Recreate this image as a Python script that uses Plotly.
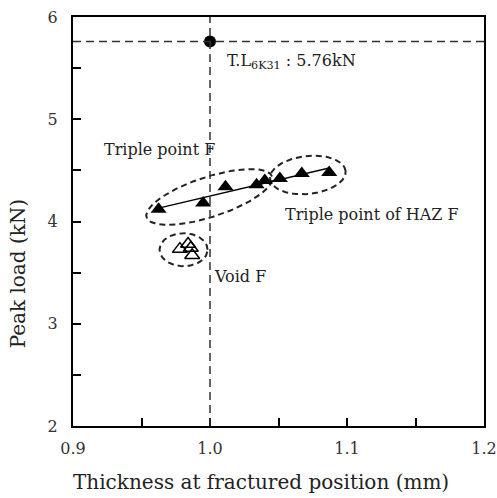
import numpy as np
import plotly.graph_objects as go

# Peak load vs. thickness at the fractured position
triple_x = [0.9625, 0.995, 1.0113, 1.034, 1.040, 1.051, 1.067, 1.087]
triple_y = [4.12, 4.18, 4.34, 4.36, 4.40, 4.42, 4.47, 4.48]

void_x = [0.978, 0.984, 0.986, 0.987]
void_y = [3.73, 3.78, 3.74, 3.67]

tl_x = [1.0]
tl_y = [5.76]

x_ticks = [0.9, 0.95, 1.0, 1.05, 1.1, 1.15, 1.2]
x_tick_text = ["0.9", "", "1.0", "", "1.1", "", "1.2"]
y_ticks = [2, 2.5, 3, 3.5, 4, 4.5, 5, 5.5, 6]
y_tick_text = ["2", "", "3", "", "4", "", "5", "", "6"]

W, H = 497, 498
ML, MR, MT, MB = 73, 13, 17, 72
XR = (0.9, 1.2)
YR = (2.0, 6.0)
px_x = (W - ML - MR) / (XR[1] - XR[0])
px_y = (H - MT - MB) / (YR[1] - YR[0])

FONT = "DejaVu Serif"


def ellipse(cx, cy, a_px, b_px, ang_deg, n=200):
    """Dashed grouping ellipse, sized in screen pixels, returned in data units."""
    t = np.linspace(0, 2 * np.pi, n)
    th = np.deg2rad(ang_deg)
    u = a_px * np.cos(t)
    v = b_px * np.sin(t)
    dx = u * np.cos(th) - v * np.sin(th)
    dy = u * np.sin(th) + v * np.cos(th)
    return cx + dx / px_x, cy + dy / px_y


fig = go.Figure()

# reference lines through the T.L point
fig.add_hline(y=tl_y[0], line=dict(color="#333333", width=1.5, dash="8px,5px"))
fig.add_vline(x=tl_x[0], line=dict(color="#333333", width=1.5, dash="8px,5px"))

# grouping ellipses
for cx, cy, a, b, ang in [(0.9995, 4.24, 66, 20, 18),
                          (1.0714, 4.455, 38, 19, 6),
                          (0.9807, 3.724, 24, 16.5, 0)]:
    ex, ey = ellipse(cx, cy, a, b, ang)
    fig.add_trace(go.Scatter(x=ex, y=ey, mode="lines", hoverinfo="skip",
                             line=dict(color="#222222", width=2, dash="6px,4px")))

# linear fit through the triple-point data
k, c = np.polyfit(triple_x, triple_y, 1)
fx = np.array([min(triple_x), max(triple_x)])
fig.add_trace(go.Scatter(x=fx, y=k * fx + c, mode="lines",
                         line=dict(color="black", width=1.5)))

fig.add_trace(go.Scatter(x=triple_x, y=triple_y, mode="markers",
                         marker=dict(symbol="triangle-up", size=14, color="black")))
fig.add_trace(go.Scatter(x=void_x, y=void_y, mode="markers",
                         marker=dict(symbol="triangle-up-open", size=13, color="black",
                                     line=dict(width=1.5, color="black"))))
fig.add_trace(go.Scatter(x=tl_x, y=tl_y, mode="markers",
                         marker=dict(symbol="circle", size=12, color="black")))

ann_font = dict(family=FONT, size=16, color="#222222")
annotations = [
    dict(x=1.0112, y=5.56, text="T.L<sub>6K31</sub> : 5.76kN", xanchor="left"),
    dict(x=0.9212, y=4.70, text="Triple point F", xanchor="left"),
    dict(x=1.0533, y=4.073, text="Triple point of HAZ F", xanchor="left"),
    dict(x=1.0015, y=3.467, text="Void F", xanchor="left"),
]
for a in annotations:
    fig.add_annotation(xref="x", yref="y", showarrow=False, yanchor="middle",
                       font=ann_font, **a)

# axis titles
fig.add_annotation(xref="paper", yref="paper", x=0.4566, y=-0.137,
                   text="Thickness at fractured position (mm)", showarrow=False,
                   xanchor="center", yanchor="middle",
                   font=dict(family=FONT, size=20, color="#222222"))
fig.add_annotation(xref="paper", yref="paper", x=-0.133, y=0.374,
                   text="Peak load (kN)", showarrow=False, textangle=-90,
                   xanchor="center", yanchor="middle",
                   font=dict(family=FONT, size=20, color="#222222"))

axis_common = dict(showgrid=False, zeroline=False, showline=True, linecolor="black",
                   linewidth=2, mirror=True, ticks="inside", ticklen=8,
                   tickwidth=1.5, tickcolor="black", automargin=False,
                   tickfont=dict(family=FONT, size=16, color="#333333"))

fig.update_xaxes(range=list(XR), tickmode="array", tickvals=x_ticks,
                 ticktext=x_tick_text, ticklabelstandoff=7, **axis_common)
fig.update_yaxes(range=list(YR), tickmode="array", tickvals=y_ticks,
                 ticktext=y_tick_text, ticklabelstandoff=10, **axis_common)

fig.update_layout(width=W, height=H, showlegend=False,
                  margin=dict(l=ML, r=MR, t=MT, b=MB),
                  plot_bgcolor="white", paper_bgcolor="white")

fig.write_html("out.html")
